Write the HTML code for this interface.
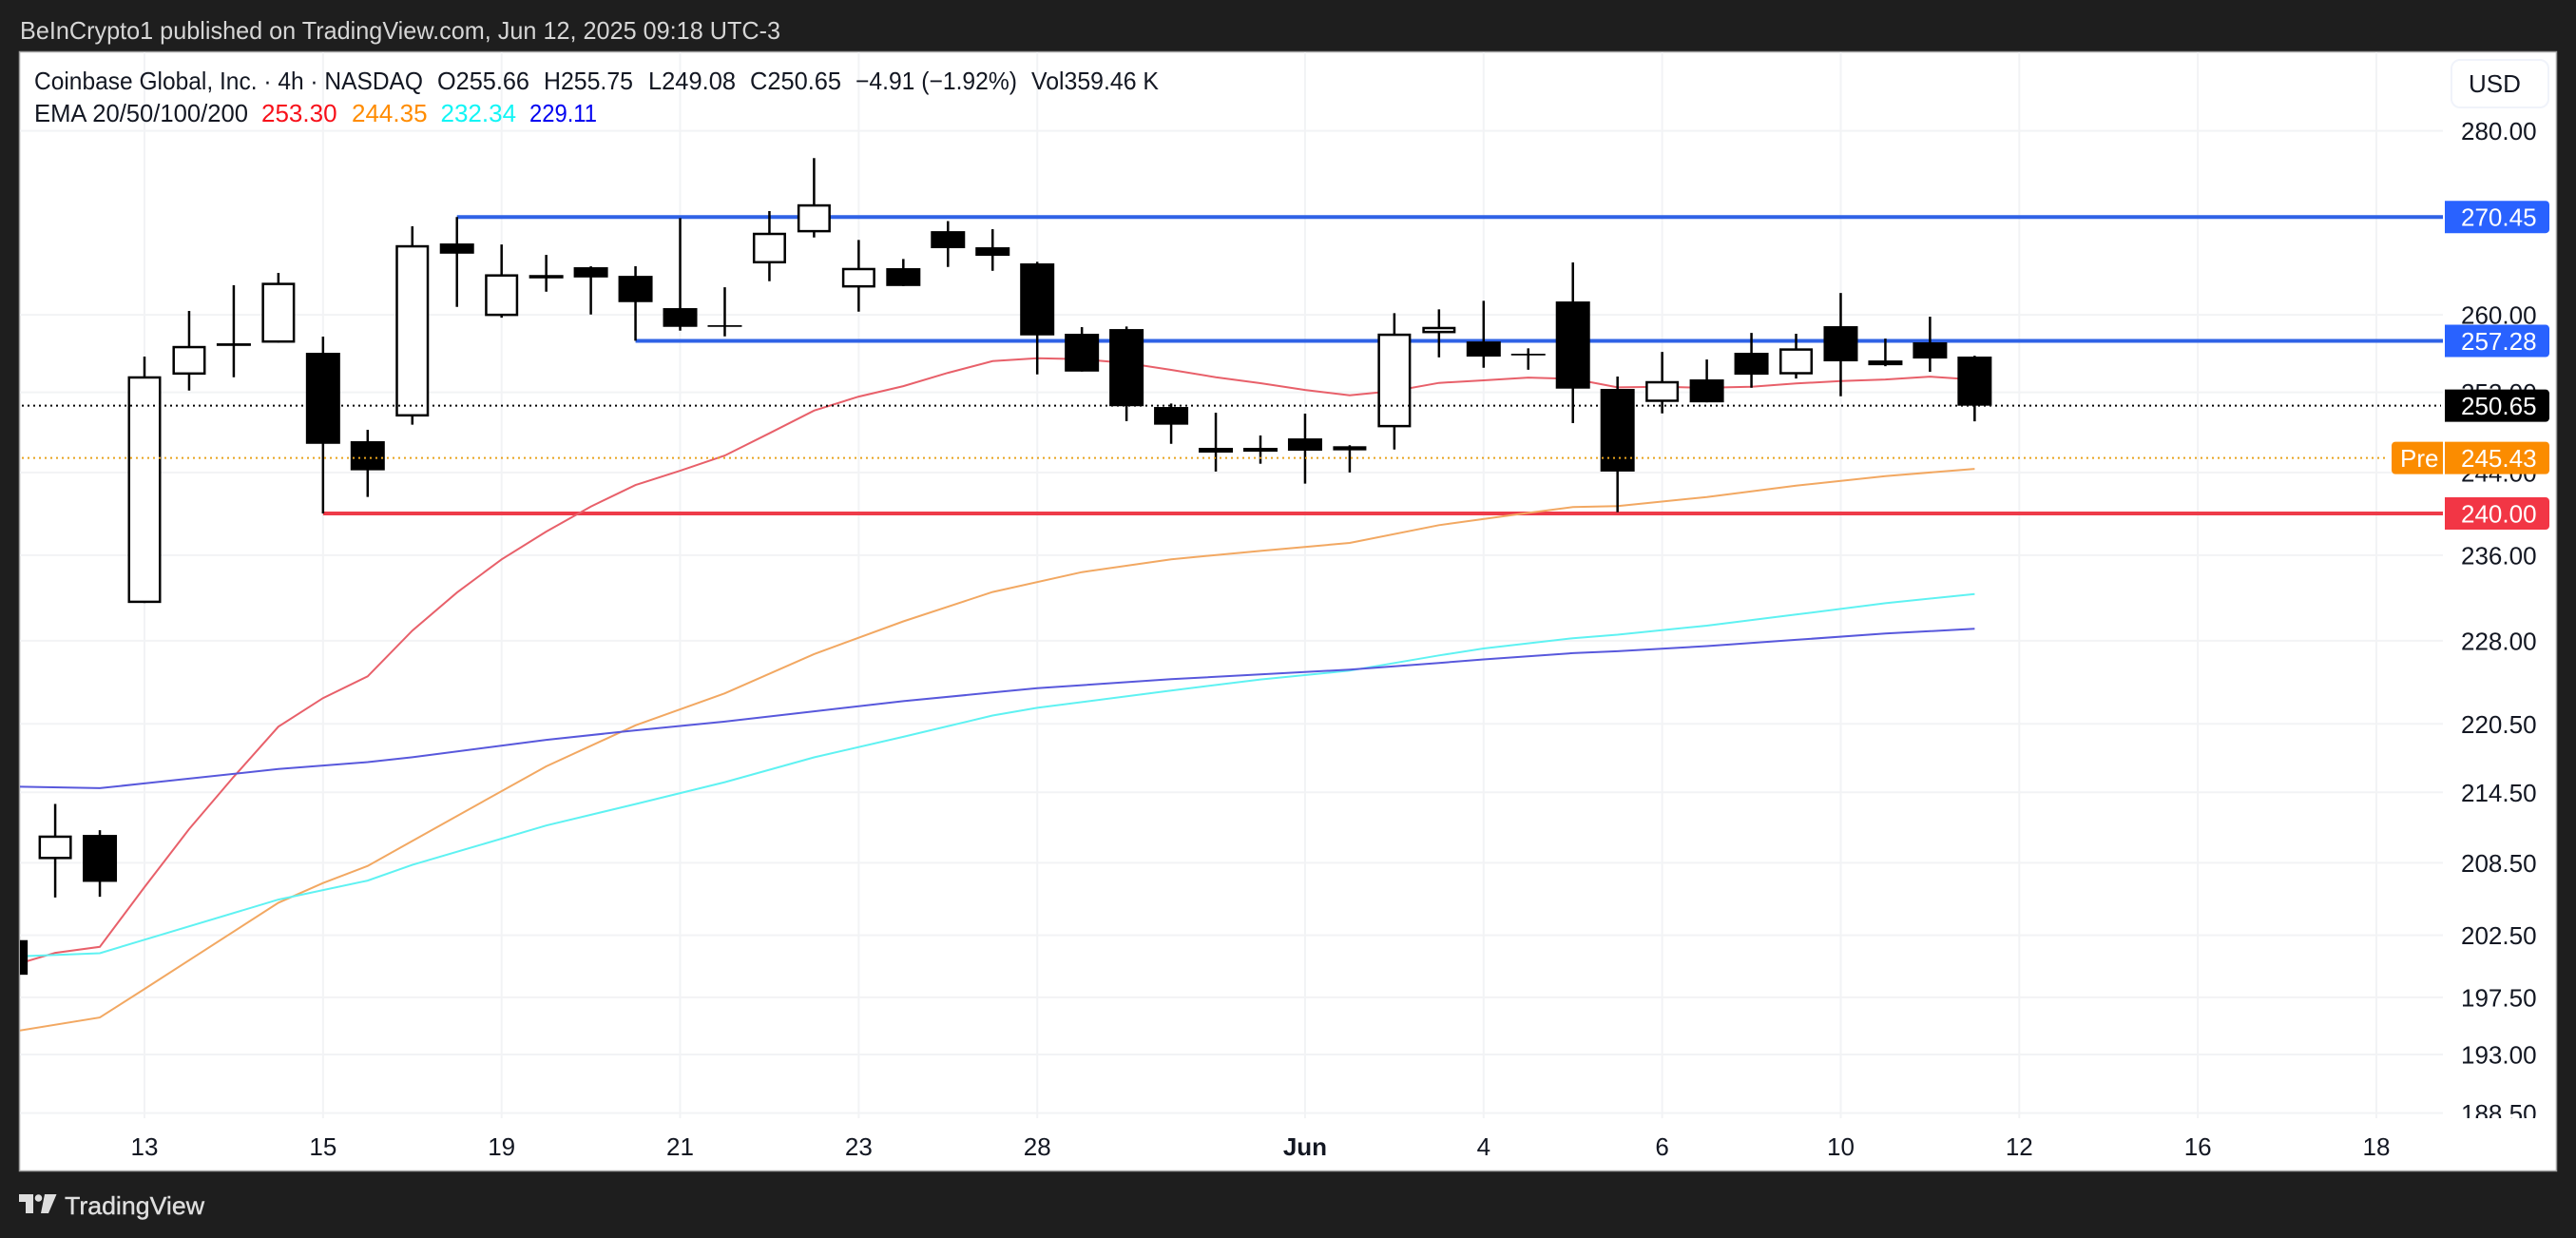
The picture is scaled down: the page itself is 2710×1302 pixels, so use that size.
<!DOCTYPE html>
<html lang="en">
<head>
<meta charset="utf-8">
<title>Coinbase Global 4h chart</title>
<style>
html,body{margin:0;padding:0;background:#1e1e1e;width:2710px;height:1302px;overflow:hidden}
svg{display:block}
text{font-family:"Liberation Sans",sans-serif;font-size:26px}
</style>
</head>
<body>
<svg id="chart" xmlns="http://www.w3.org/2000/svg" width="2710" height="1302" viewBox="0 0 2710 1302">
  <defs>
    <clipPath id="plot-clip"><rect x="21" y="55" width="2549" height="1120"/></clipPath>
    <clipPath id="axis-clip"><rect x="2572" y="55" width="116" height="1121"/></clipPath>
  </defs>
  <rect x="0" y="0" width="2710" height="1302" fill="#1e1e1e"/>
  <text x="21" y="41" fill="#d6d6d6" textLength="800" lengthAdjust="spacingAndGlyphs">BeInCrypto1 published on TradingView.com, Jun 12, 2025 09:18 UTC-3</text>
  <rect x="20.5" y="54.5" width="2669" height="1177" fill="#ffffff" stroke="#a0a0a0" stroke-width="1.5"/>
  <g id="grid"></g>
  <g id="levels" clip-path="url(#plot-clip)"></g>
  <g id="emas" clip-path="url(#plot-clip)" fill="none" stroke-width="2"></g>
  <g id="candles" clip-path="url(#plot-clip)"></g>
  <g id="dotted"></g>
  <g id="price-axis" clip-path="url(#axis-clip)" fill="#131722"></g>
  <g id="time-axis" fill="#131722" text-anchor="middle"></g>
  <g id="tags"></g>

  <rect x="2579" y="63" width="102" height="50" rx="9" fill="#ffffff" stroke="#f0f3fa" stroke-width="2"/>
  <text x="2597" y="97" fill="#131722">USD</text>

  <g fill="#131722">
    <text x="36" y="94" textLength="409" lengthAdjust="spacingAndGlyphs">Coinbase Global, Inc. · 4h · NASDAQ</text>
    <text x="460" y="94" textLength="97" lengthAdjust="spacingAndGlyphs">O255.66</text>
    <text x="572" y="94" textLength="94" lengthAdjust="spacingAndGlyphs">H255.75</text>
    <text x="682" y="94" textLength="92" lengthAdjust="spacingAndGlyphs">L249.08</text>
    <text x="789" y="94" textLength="96" lengthAdjust="spacingAndGlyphs">C250.65</text>
    <text x="900" y="94" textLength="170" lengthAdjust="spacingAndGlyphs">−4.91 (−1.92%)</text>
    <text x="1085" y="94" textLength="134" lengthAdjust="spacingAndGlyphs">Vol359.46 K</text>
    <text x="36" y="128" textLength="225" lengthAdjust="spacingAndGlyphs">EMA 20/50/100/200</text>
    <text x="275" y="128" fill="#f7101a">253.30</text>
    <text x="370" y="128" fill="#ff8c00">244.35</text>
    <text x="463.500" y="128" fill="#12f5f5">232.34</text>
    <text x="557" y="128" fill="#0000f0" textLength="71" lengthAdjust="spacingAndGlyphs">229.11</text>
  </g>

  <g fill="#dedede">
    <polygon points="20,1256 35,1256 35,1276 27,1276 27,1264 20,1264"/>
    <circle cx="40.500" cy="1260" r="3.800"/>
    <polygon points="47,1256 59.500,1256 51,1276 43,1276"/>
    <text x="68" y="1277" font-weight="400" stroke="#dedede" stroke-width="0.4" textLength="147" lengthAdjust="spacingAndGlyphs">TradingView</text>
  </g>
</svg>
<script>
// Candle data (oldest to newest)
const opens = [202.1,208.8,210.85,231.5,253.8,257.03,257.09,256.05,247.09,249.56,267.58,259.87,264.2,265.03,264.11,260.7,258.91,265.44,268.78,262.87,264.93,268.91,267.17,265.44,258.02,258.51,250.52,246.43,246.43,247.37,246.18,248.48,258.08,257.22,255.95,261.4,252.35,251.03,253.32,256.05,253.83,258.81,255.26,257.13,255.66];
const highs = [204,213.5,211.25,255.66,260.4,263.11,264.42,257.72,248.23,269.43,270.45,267.47,266.35,265.13,265.13,270.33,262.9,271.09,276.95,267.96,265.91,270.0,269.12,265.61,258.71,258.78,250.87,249.94,247.66,249.85,246.69,260.17,260.57,261.47,256.51,265.54,253.61,256.14,255.36,258.11,258.02,262.3,257.52,259.8,255.75];
const lows = [197,205.6,205.66,231.5,252.18,253.54,257.09,240,241.61,248.74,260.83,259.7,262.43,260.03,257.3,258.34,257.75,263.54,268.23,260.33,263.03,265.06,264.65,253.83,254.12,249.1,246.83,244.09,244.86,242.9,244.0,246.27,255.58,254.51,254.31,248.9,240.13,249.88,250.99,252.47,253.41,251.6,254.67,254.09,249.08];
const closes = [199.3,210.8,206.9,253.64,256.76,256.76,263.38,246.83,244.21,267.4,266.48,264.28,263.84,263.94,261.33,258.74,258.74,268.74,271.84,264.96,263.03,267.07,266.25,257.85,254.12,250.6,248.74,245.96,246.05,246.15,246.59,258.04,258.74,255.66,255.78,252.38,244.09,253.15,250.99,253.8,256.51,255.17,254.77,255.46,250.65];

// EMA readings
const ema20Values = [200.0,201.07,201.55,206.46,211.35,215.85,220.25,222.8,224.76,228.94,232.47,235.6,238.25,240.67,242.77,244.17,245.67,247.88,250.16,251.57,252.63,253.99,255.19,255.48,255.39,255.0,254.29,253.54,252.93,252.25,251.7,252.15,252.96,253.22,253.51,253.38,252.51,252.57,252.47,252.57,252.9,253.15,253.31,253.6,253.3];
const ema50Bars = [0,2,3,6,7,8,10,12,14,16,18,20,22,24,26,28,30,32,34,35,36,38,40,42,44];
const ema50Values = [194.75,195.9,198.16,205.17,206.8,208.23,212.46,216.75,220.37,223.22,226.78,229.79,232.53,234.4,235.61,236.41,237.17,238.87,240.06,240.62,240.71,241.6,242.7,243.64,244.35];
const slowEmaBars = [0,2,3,6,8,9,12,14,16,18,20,22,23,26,28,30,32,33,35,36,38,40,42,44];
const ema100Values = [200.76,201.04,202.13,205.43,207.01,208.32,211.65,213.49,215.38,217.54,219.35,221.24,221.93,223.48,224.48,225.28,226.66,227.3,228.24,228.56,229.4,230.43,231.48,232.34];
const ema200Values = [215.0,214.86,215.27,216.52,217.13,217.55,219.08,219.92,220.7,221.61,222.52,223.3,223.69,224.5,224.93,225.37,225.98,226.3,226.87,227.04,227.51,228.09,228.67,229.11];

// Axis ticks
const priceTicks = [280,260,252,244,236,228,220.5,214.5,208.5,202.5,197.5,193,188.5];
const timeTickBars = [3,7,11,15,19,23,29,33,37,41,45,49,53];
const timeTickLabels = ["13","15","19","21","23","28","Jun","4","6","10","12","16","18"];

// Horizontal levels
const resistanceHigh = 270.45;
const resistanceHighStartBar = 10;
const resistanceLow = 257.28;
const resistanceLowStartBar = 14;
const supportLevel = 240;
const supportStartBar = 7;
const lastPrice = 250.65;
const prePrice = 245.43;

// Axis functions
function xScale(bar) { return 152 + 46.96 * (bar - 3); }
function yScale(price) { return 137.6 + 2610.6 * Math.log(280 / price); }

const NS = 'http://www.w3.org/2000/svg';
function make(parent, tag, attrs) {
  const el = document.createElementNS(NS, tag);
  for (const k in attrs) el.setAttribute(k, attrs[k]);
  parent.appendChild(el);
  return el;
}
const PLOT_LEFT = 21, PLOT_RIGHT = 2570, GRID_BOTTOM = 1176;

// Gridlines
const grid = document.getElementById('grid');
priceTicks.forEach(function (p) {
  const y = yScale(p);
  const line = make(grid, 'line', {x1: PLOT_LEFT, x2: PLOT_RIGHT, y1: y, y2: y, stroke: '#f2f3f5', 'stroke-width': 2});
  
  
});
timeTickBars.forEach(function (b) {
  const x = xScale(b);
  const line = make(grid, 'line', {x1: x, x2: x, y1: 55, y2: GRID_BOTTOM, stroke: '#f2f3f5', 'stroke-width': 2});
  
  
});

// Levels
const levelsG = document.getElementById('levels');
const resHighLine = make(levelsG, 'line', {x1: xScale(resistanceHighStartBar), x2: PLOT_RIGHT, y1: yScale(resistanceHigh), y2: yScale(resistanceHigh), stroke: '#2f62e6', 'stroke-width': 4});


const resLowLine = make(levelsG, 'line', {x1: xScale(resistanceLowStartBar), x2: PLOT_RIGHT, y1: yScale(resistanceLow), y2: yScale(resistanceLow), stroke: '#2f62e6', 'stroke-width': 4});


const supLine = make(levelsG, 'line', {x1: xScale(supportStartBar), x2: PLOT_RIGHT, y1: yScale(supportLevel), y2: yScale(supportLevel), stroke: '#ee3b49', 'stroke-width': 4});



// EMA lines
function emaPoints(bars, values) {
  return values.map(function (v, i) { return xScale(bars[i]).toFixed(1) + ',' + yScale(v).toFixed(1); }).join(' ');
}
const emaG = document.getElementById('emas');
const ema20Line = make(emaG, 'polyline', {points: emaPoints(ema20Values.map(function (_, i) { return i; }), ema20Values), stroke: '#e8606a'});


const ema50Line = make(emaG, 'polyline', {points: emaPoints(ema50Bars, ema50Values), stroke: '#f2a862'});


const ema100Line = make(emaG, 'polyline', {points: emaPoints(slowEmaBars, ema100Values), stroke: '#5ff2f2'});


const ema200Line = make(emaG, 'polyline', {points: emaPoints(slowEmaBars, ema200Values), stroke: '#5858dc'});



// Candles
const candlesG = document.getElementById('candles');
opens.forEach(function (o, i) {
  const c = closes[i];
  const x = xScale(i);
  const top = yScale(Math.max(o, c));
  const bottom = yScale(Math.min(o, c));
  const up = c >= o;
  const g = make(candlesG, 'g', {});
  
  
  const wick = make(g, 'line', {x1: x, x2: x, y1: yScale(highs[i]), y2: yScale(lows[i]), stroke: '#000000', 'stroke-width': 2.5});
  
  
  let body;
  if (up) {
    body = make(g, 'rect', {x: x - 16.25, y: top + 1.25, width: 32.5, height: Math.max(bottom - top - 2.5, 0.5), fill: '#ffffff', stroke: '#000000', 'stroke-width': 2.5});
  } else {
    body = make(g, 'rect', {x: x - 18, y: top, width: 36, height: Math.max(bottom - top, 1.5), fill: '#000000'});
  }
  
  
});

// Dotted lines
const dottedG = document.getElementById('dotted');
const lastLine = make(dottedG, 'line', {x1: 23, x2: 2568, y1: yScale(lastPrice), y2: yScale(lastPrice), stroke: '#000000', 'stroke-width': 2, 'stroke-dasharray': '2 4'});


const preLine = make(dottedG, 'line', {x1: 23, x2: 2513, y1: yScale(prePrice), y2: yScale(prePrice), stroke: '#e8a31e', 'stroke-width': 2, 'stroke-dasharray': '2 4'});



// Price axis labels
const priceAxis = document.getElementById('price-axis');
priceTicks.forEach(function (p) {
  const t = make(priceAxis, 'text', {x: 2589, y: yScale(p) + 9.5});
  t.textContent = p.toFixed(2);
  
  
});

// Time axis labels
const timeAxis = document.getElementById('time-axis');
timeTickLabels.forEach(function (label, i) {
  const t = make(timeAxis, 'text', {x: xScale(timeTickBars[i]), y: 1215});
  if (label === 'Jun') t.setAttribute('font-weight', '700');
  t.textContent = label;
  
  
});

// Price tags
const tagsG = document.getElementById('tags');
function drawTag(price, color) {
  const y = yScale(price);
  const g = make(tagsG, 'g', {});
  const box = make(g, 'path', {d: 'M2572 ' + (y - 17) + 'H2678a4 4 0 0 1 4 4V' + (y + 13) + 'a4 4 0 0 1 -4 4H2572Z', fill: color});
  
  
  const t = make(g, 'text', {x: 2589, y: y + 9.5, fill: '#ffffff'});
  t.textContent = price.toFixed(2);
  
  
  return g;
}
const tagHigh = drawTag(resistanceHigh, '#2962ff');


const tagLow = drawTag(resistanceLow, '#2962ff');


const tagLast = drawTag(lastPrice, '#000000');


const tagPre = drawTag(prePrice, '#fb8c00');


const tagSupport = drawTag(supportLevel, '#f23645');



// "Pre" badge
const preY = yScale(prePrice);
const preBox = make(tagsG, 'path', {d: 'M2570 ' + (preY - 17) + 'H2520a4 4 0 0 0 -4 4V' + (preY + 13) + 'a4 4 0 0 0 4 4H2570Z', fill: '#fb8c00'});


const preText = make(tagsG, 'text', {x: 2525, y: preY + 9.5, fill: '#ffffff'});
preText.textContent = 'Pre';


</script>
</body>
</html>
